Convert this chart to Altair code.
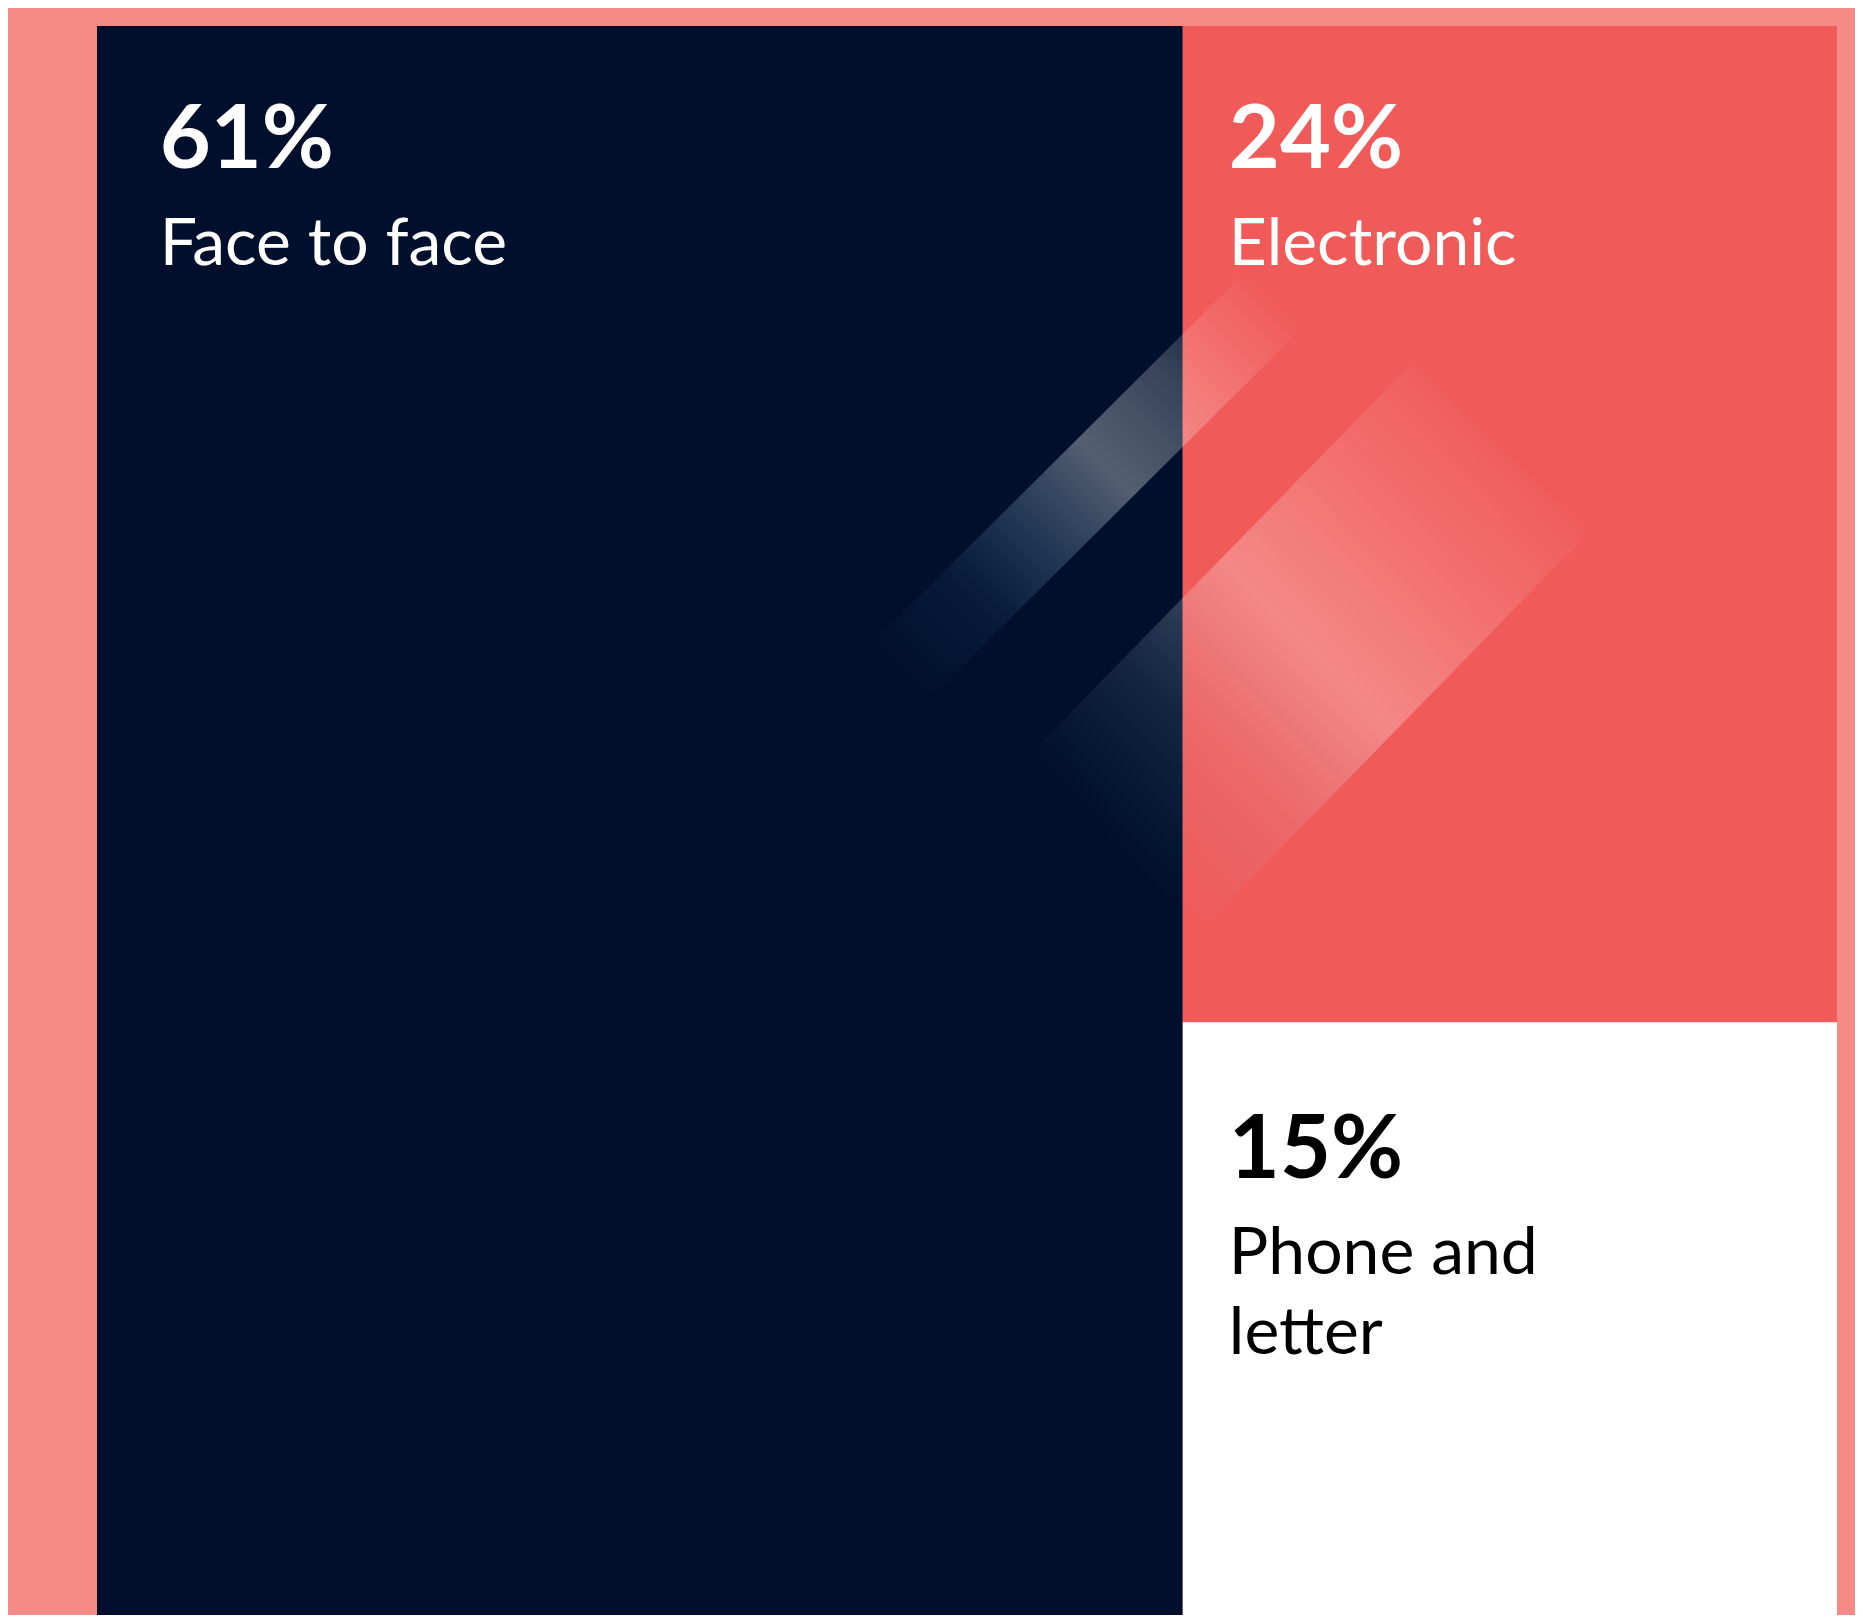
import altair as alt
import pandas as pd

# ---- data ----
categories = ["Face to face", "Electronic", "Phone and letter"]
share_values = [61, 24, 15]
label_lines = ["Face to face", "Electronic", "Phone and\nletter"]
tile_colors = ["#00102C", "#F05A58", "#FFFFFF"]
text_colors = ["#FFFFFF", "#FFFFFF", "#000000"]

# treemap tile bounds (percent of visible chart area, y measured downward)
tile_x_start = [0, 62.4, 62.4]
tile_x_end = [62.4, 100, 100]
tile_y_start = [0, 0, 62.7]
tile_y_end = [100, 62.7, 100]

# text anchors (percent of visible area)
text_x = [3.6, 65.05, 65.05]
number_y = [8.94, 8.94, 72.5]
label_y = [15.04, 15.04, 78.54]

# decorative light beams
beam_x_start = [46.0, 58.4]
beam_y_start = [40.8, 51.5]
beam_x_end = [67.8, 80.7]
beam_y_end = [17.05, 26.5]

tiles = pd.DataFrame({
    "category": categories,
    "x0": tile_x_start, "x1": tile_x_end,
    "y0": tile_y_start, "y1": tile_y_end,
    "fill": tile_colors,
})
texts = pd.DataFrame({
    "category": categories,
    "pct": [f"{v}%" for v in share_values],
    "label": label_lines,
    "tx": text_x, "ny": number_y, "ly": label_y,
    "tc": text_colors,
})
beams = pd.DataFrame({
    "bx0": beam_x_start, "by0": beam_y_start,
    "bx1": beam_x_end, "by1": beam_y_end,
})

xs = alt.Scale(domain=[0, 100], nice=False, zero=False)
ys = alt.Scale(domain=[0, 100], nice=False, zero=False, reverse=True)

rects = alt.Chart(tiles).mark_rect(strokeWidth=0).encode(
    x=alt.X("x0:Q", scale=xs, axis=None),
    x2="x1:Q",
    y=alt.Y("y0:Q", scale=ys, axis=None),
    y2="y1:Q",
    color=alt.Color("fill:N", scale=None, legend=None),
)

def grad(stops):
    return alt.LinearGradient(
        gradient="linear",
        x1=0, y1=1, x2=1, y2=0,
        stops=[alt.GradientStop(offset=o, color=c) for o, c in stops],
    )

beam1 = alt.Chart(beams.iloc[[0]]).mark_rule(
    strokeCap="butt", strokeWidth=80,
    stroke=grad([(0.0, "rgba(120,200,255,0)"), (0.2, "rgba(120,200,255,0.06)"),
                 (0.55, "rgba(255,255,255,0.33)"), (0.75, "rgba(255,255,255,0.22)"),
                 (1.0, "rgba(255,255,255,0)")]),
).encode(
    x=alt.X("bx0:Q", scale=xs, axis=None), y=alt.Y("by0:Q", scale=ys, axis=None),
    x2="bx1:Q", y2="by1:Q",
)

beam2 = alt.Chart(beams.iloc[[1]]).mark_rule(
    strokeCap="butt", strokeWidth=245,
    stroke=grad([(0.0, "rgba(120,200,255,0)"), (0.25, "rgba(200,230,255,0.1)"),
                 (0.5, "rgba(255,255,255,0.28)"), (0.75, "rgba(255,255,255,0.15)"),
                 (1.0, "rgba(255,255,255,0.02)")]),
).encode(
    x=alt.X("bx0:Q", scale=xs, axis=None), y=alt.Y("by0:Q", scale=ys, axis=None),
    x2="bx1:Q", y2="by1:Q",
)

numbers = alt.Chart(texts).mark_text(
    align="left", baseline="alphabetic", font="Liberation Sans Narrow, Lato",
    fontWeight="bold", fontSize=88,
).encode(
    x=alt.X("tx:Q", scale=xs, axis=None),
    y=alt.Y("ny:Q", scale=ys, axis=None),
    text="pct:N",
    color=alt.Color("tc:N", scale=None, legend=None),
)

labels = alt.Chart(texts).mark_text(
    align="left", baseline="alphabetic", font="Lato", fontWeight="normal", fontSize=66,
    lineBreak="\n", lineHeight=80,
).encode(
    x=alt.X("tx:Q", scale=xs, axis=None),
    y=alt.Y("ly:Q", scale=ys, axis=None),
    text="label:N",
    color=alt.Color("tc:N", scale=None, legend=None),
)

chart = alt.layer(rects, beam1, beam2, numbers, labels).properties(
    width=1740,
    height=1589,
    background="#F68A85",
    padding={"left": 89, "top": 18, "right": 18, "bottom": 0},
    autosize=alt.AutoSizeParams(type="none"),
).configure_view(strokeWidth=0)

chart.save("out.html", embed_options={"renderer": "svg", "actions": False})
